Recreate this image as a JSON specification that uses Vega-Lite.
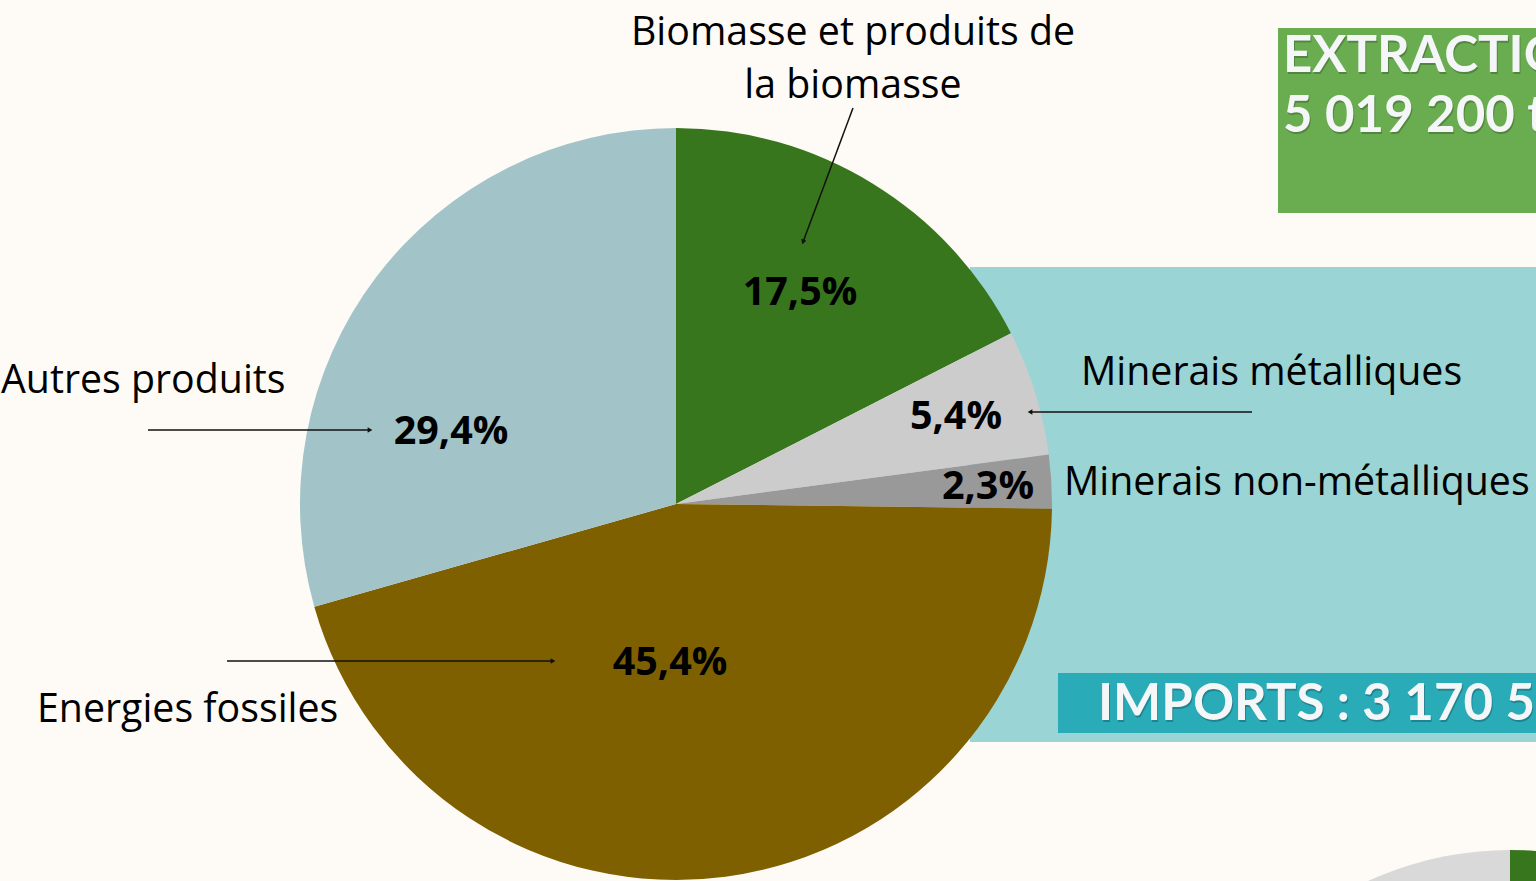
{
  "$schema": "https://vega.github.io/schema/vega-lite/v6.json",
  "width": 1536,
  "height": 881,
  "autosize": {"type": "none"},
  "padding": 0,
  "background": "#fefbf6",
  "config": {
    "view": {"stroke": null},
    "locale": {"number": {"decimal": ",", "thousands": " ", "grouping": [3], "currency": ["", " €"]}}
  },
  "datasets": {
    "pie": [
      {"categorie": "Biomasse et produits de la biomasse", "part": 0.175, "ordre": 1, "lx": 800, "ly": 305},
      {"categorie": "Minerais métalliques", "part": 0.054, "ordre": 2, "lx": 956, "ly": 429},
      {"categorie": "Minerais non-métalliques", "part": 0.023, "ordre": 3, "lx": 988, "ly": 499},
      {"categorie": "Energies fossiles", "part": 0.454, "ordre": 4, "lx": 670, "ly": 675},
      {"categorie": "Autres produits", "part": 0.294, "ordre": 5, "lx": 451, "ly": 444}
    ],
    "imports": [
      {"categorie": "Biomasse", "part": 0.2, "ordre": 1},
      {"categorie": "Minerais métalliques", "part": 0.1, "ordre": 2},
      {"categorie": "Minerais non-métalliques", "part": 0.05, "ordre": 3},
      {"categorie": "Energies fossiles", "part": 0.4, "ordre": 4},
      {"categorie": "Autres produits", "part": 0.25, "ordre": 5}
    ],
    "etiquettes_gauche": [
      {"texte": "Autres produits", "x": 1, "y": 393},
      {"texte": "Energies fossiles", "x": 37, "y": 722},
      {"texte": "Minerais métalliques", "x": 1081, "y": 385},
      {"texte": "Minerais non-métalliques", "x": 1064, "y": 495}
    ],
    "etiquettes_centre": [
      {"texte": "Biomasse et produits de\nla biomasse", "x": 853, "y": 45}
    ],
    "titres": [
      {"texte": "EXTRACTION", "x": 1283, "y": 72},
      {"texte": "5 019 200 t", "x": 1283, "y": 132},
      {"texte": "IMPORTS : 3 170 500 t", "x": 1098, "y": 720}
    ],
    "fleches": [
      {"nom": "Biomasse", "x": 853, "y": 108, "x2": 803, "y2": 242, "sens": "bas"},
      {"nom": "Minerais métalliques", "x": 1252, "y": 412, "x2": 1030, "y2": 412, "sens": "gauche"},
      {"nom": "Autres produits", "x": 148, "y": 430, "x2": 370, "y2": 430, "sens": "droite"},
      {"nom": "Energies fossiles", "x": 227, "y": 661, "x2": 553, "y2": 661, "sens": "droite"}
    ],
    "blocs": [
      {"bloc": "fond imports", "x": 970, "x2": 1536, "y": 267, "y2": 742},
      {"bloc": "extraction", "x": 1278, "x2": 1536, "y": 28, "y2": 213},
      {"bloc": "bandeau imports", "x": 1058, "x2": 1536, "y": 673, "y2": 733}
    ]
  },
  "layer": [
    {
      "data": {"name": "blocs"},
      "transform": [{"filter": "datum.bloc === 'fond imports'"}],
      "mark": {"type": "rect", "color": "#9bd4d4"},
      "encoding": {
        "x": {"field": "x", "type": "quantitative", "scale": {"domain": [0, 1536], "nice": false, "zero": false}, "axis": null},
        "x2": {"field": "x2"},
        "y": {"field": "y", "type": "quantitative", "scale": {"domain": [0, 881], "nice": false, "zero": false, "reverse": true}, "axis": null},
        "y2": {"field": "y2"}
      }
    },
    {
      "data": {"name": "pie"},
      "mark": {"type": "arc", "outerRadius": 376},
      "encoding": {
        "x": {"datum": 676, "type": "quantitative"},
        "y": {"datum": 504, "type": "quantitative"},
        "theta": {"field": "part", "type": "quantitative", "stack": true},
        "order": {"field": "ordre", "type": "quantitative", "sort": "ascending"},
        "color": {
          "field": "categorie", "type": "nominal", "legend": null,
          "scale": {
            "domain": ["Biomasse et produits de la biomasse", "Minerais métalliques", "Minerais non-métalliques", "Energies fossiles", "Autres produits"],
            "range": ["#38761d", "#cccccc", "#999999", "#7f6000", "#a2c4c9"]
          }
        }
      }
    },
    {
      "data": {"name": "imports"},
      "mark": {"type": "arc", "outerRadius": 341, "clip": true},
      "encoding": {
        "x": {"datum": 1510, "type": "quantitative"},
        "y": {"datum": 1191, "type": "quantitative"},
        "theta": {"field": "part", "type": "quantitative", "stack": true},
        "order": {"field": "ordre", "type": "quantitative", "sort": "ascending"},
        "color": {
          "field": "categorie", "type": "nominal", "legend": null,
          "scale": {
            "domain": ["Biomasse", "Minerais métalliques", "Minerais non-métalliques", "Energies fossiles", "Autres produits"],
            "range": ["#38761d", "#cccccc", "#999999", "#7f6000", "#d9d9d9"]
          }
        }
      }
    },
    {
      "data": {"name": "blocs"},
      "transform": [{"filter": "datum.bloc === 'extraction'"}],
      "mark": {"type": "rect", "color": "#6aad50"},
      "encoding": {
        "x": {"field": "x", "type": "quantitative"},
        "x2": {"field": "x2"},
        "y": {"field": "y", "type": "quantitative"},
        "y2": {"field": "y2"}
      }
    },
    {
      "data": {"name": "blocs"},
      "transform": [{"filter": "datum.bloc === 'bandeau imports'"}],
      "mark": {"type": "rect", "color": "#2aabb8"},
      "encoding": {
        "x": {"field": "x", "type": "quantitative"},
        "x2": {"field": "x2"},
        "y": {"field": "y", "type": "quantitative"},
        "y2": {"field": "y2"}
      }
    },
    {
      "data": {"name": "titres"},
      "mark": {"type": "text", "font": "Lato", "fontWeight": "bold", "fontSize": 51, "align": "left", "baseline": "alphabetic", "color": "#000000", "opacity": 0.22, "dx": 1, "dy": 2, "clip": true},
      "encoding": {
        "x": {"field": "x", "type": "quantitative"},
        "y": {"field": "y", "type": "quantitative"},
        "text": {"field": "texte"}
      }
    },
    {
      "data": {"name": "titres"},
      "mark": {"type": "text", "font": "Lato", "fontWeight": "bold", "fontSize": 51, "align": "left", "baseline": "alphabetic", "color": "#f4f6f8", "clip": true},
      "encoding": {
        "x": {"field": "x", "type": "quantitative"},
        "y": {"field": "y", "type": "quantitative"},
        "text": {"field": "texte"}
      }
    },
    {
      "data": {"name": "pie"},
      "mark": {"type": "text", "font": "Open Sans", "fontWeight": "bold", "fontSize": 39.5, "align": "center", "baseline": "alphabetic", "color": "#000000"},
      "encoding": {
        "x": {"field": "lx", "type": "quantitative"},
        "y": {"field": "ly", "type": "quantitative"},
        "text": {"field": "part", "type": "quantitative", "format": ".1%"}
      }
    },
    {
      "data": {"name": "etiquettes_gauche"},
      "mark": {"type": "text", "font": "Open Sans", "fontSize": 39.3, "align": "left", "baseline": "alphabetic", "color": "#000000"},
      "encoding": {
        "x": {"field": "x", "type": "quantitative"},
        "y": {"field": "y", "type": "quantitative"},
        "text": {"field": "texte"}
      }
    },
    {
      "data": {"name": "etiquettes_centre"},
      "mark": {"type": "text", "font": "Open Sans", "fontSize": 39.3, "align": "center", "baseline": "alphabetic", "lineBreak": "\n", "lineHeight": 53, "color": "#000000"},
      "encoding": {
        "x": {"field": "x", "type": "quantitative"},
        "y": {"field": "y", "type": "quantitative"},
        "text": {"field": "texte"}
      }
    },
    {
      "data": {"name": "fleches"},
      "mark": {"type": "rule", "color": "#111111", "strokeWidth": 1.5},
      "encoding": {
        "x": {"field": "x", "type": "quantitative"},
        "y": {"field": "y", "type": "quantitative"},
        "x2": {"field": "x2"},
        "y2": {"field": "y2"}
      }
    },
    {
      "data": {"name": "fleches"},
      "transform": [{"filter": "datum.sens === 'droite'"}],
      "mark": {"type": "point", "shape": "triangle-right", "filled": true, "size": 30, "color": "#111111", "opacity": 1},
      "encoding": {
        "x": {"field": "x2", "type": "quantitative"},
        "y": {"field": "y2", "type": "quantitative"}
      }
    },
    {
      "data": {"name": "fleches"},
      "transform": [{"filter": "datum.sens === 'gauche'"}],
      "mark": {"type": "point", "shape": "triangle-left", "filled": true, "size": 30, "color": "#111111", "opacity": 1},
      "encoding": {
        "x": {"field": "x2", "type": "quantitative"},
        "y": {"field": "y2", "type": "quantitative"}
      }
    },
    {
      "data": {"name": "fleches"},
      "transform": [{"filter": "datum.sens === 'bas'"}],
      "mark": {"type": "point", "shape": "triangle-down", "angle": 20, "filled": true, "size": 30, "color": "#111111", "opacity": 1},
      "encoding": {
        "x": {"field": "x2", "type": "quantitative"},
        "y": {"field": "y2", "type": "quantitative"}
      }
    }
  ],
  "resolve": {"scale": {"color": "independent", "theta": "independent"}}
}
